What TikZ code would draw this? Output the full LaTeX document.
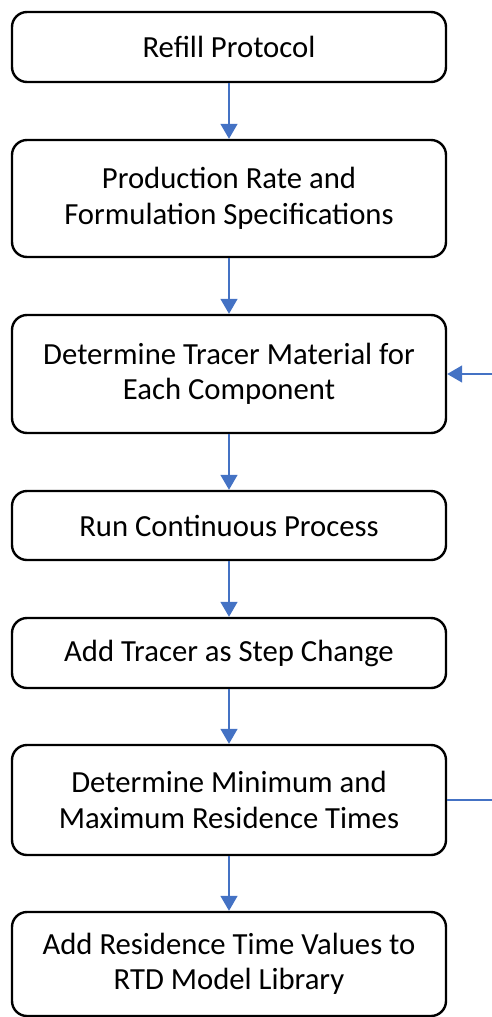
\documentclass[tikz,border=0pt]{standalone}
\usepackage{fontspec}
\setmainfont{Carlito}
\usetikzlibrary{arrows.meta}
\definecolor{flowblue}{HTML}{4472C4}
\begin{document}
\begin{tikzpicture}[x=1pt,y=-1pt,
  stepbox/.style={draw=black, line width=2.4pt, rounded corners=15pt,
    minimum width=434pt, inner sep=0pt, align=center, fill=white,
    font=\fontsize{30.7}{35.5}\selectfont},
  flow/.style={draw=flowblue, line width=1.5pt,
    -{Triangle[width=17pt,length=15pt]}}]
\useasboundingbox (0,0) rectangle (492,1017);
\begin{scope}
\clip (0,0) rectangle (492,1017);
\node[stepbox, minimum height=70pt]  (refill) at (229,47)    {Refill Protocol};
\node[stepbox, minimum height=117pt] (prod)   at (229,198.5) {Production Rate and\\Formulation Specifications};
\node[stepbox, minimum height=118pt] (tracer) at (229,374)   {Determine Tracer Material for\\Each Component};
\node[stepbox, minimum height=69pt]  (run)    at (229,525.5) {Run Continuous Process};
\node[stepbox, minimum height=70pt]  (add)    at (229,653)   {Add Tracer as Step Change};
\node[stepbox, minimum height=110pt] (minmax) at (229,800)   {Determine Minimum and\\Maximum Residence Times};
\node[stepbox, minimum height=104pt] (lib)    at (229,964)   {Add Residence Time Values to\\RTD Model Library};

\coordinate (loopin)  at (492,374);
\coordinate (loopout) at (492,800);

\draw[flow] (refill) -- (prod);
\draw[flow] (prod) -- (tracer);
\draw[flow] (tracer) -- (run);
\draw[flow] (run) -- (add);
\draw[flow] (add) -- (minmax);
\draw[flow] (minmax) -- (lib);
\draw[flow] (loopin) -- (tracer);
\draw[draw=flowblue, line width=1.5pt] (minmax) -- (loopout);
\end{scope}
\end{tikzpicture}
\end{document}
